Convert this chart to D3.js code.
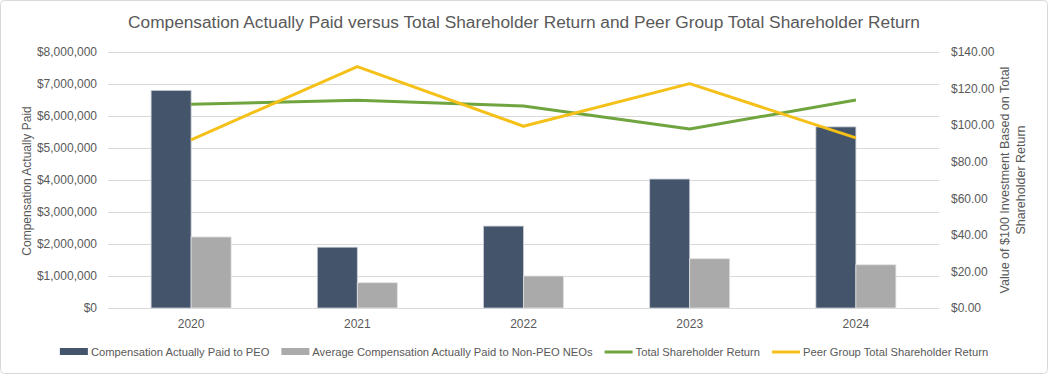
<!DOCTYPE html>
<html>
<head>
<meta charset="utf-8">
<script src="https://cdn.jsdelivr.net/npm/d3@7"></script>
<style>
  body { margin: 0; background: #fff; }
  svg { display: block; font-family: "Liberation Sans", Arial, sans-serif; }
</style>
</head>
<body>
<div id="chart"></div>
<script>
const years = ["2020", "2021", "2022", "2023", "2024"];
const capPeo = [6800000, 1900000, 2560000, 4030000, 5660000];
const capNeo = [2220000, 790000, 1000000, 1540000, 1350000];
const tsr = [111.4, 113.6, 110.5, 97.9, 113.7];
const peerTsr = [92.0, 132.0, 99.4, 122.7, 93.0];
const leftTicks = [0, 1000000, 2000000, 3000000, 4000000, 5000000, 6000000, 7000000, 8000000];
const rightTicks = [0, 20, 40, 60, 80, 100, 120, 140];

const width = 1048;
const height = 374;
const margin = { top: 52, right: 109, bottom: 66, left: 108 };

const svg = d3.select("#chart").append("svg")
    .attr("width", width)
    .attr("height", height);

svg.append("rect")
    .attr("x", 0.5).attr("y", 0.5)
    .attr("width", width - 1).attr("height", height - 1)
    .attr("rx", 4)
    .attr("fill", "#fff")
    .attr("stroke", "#d9d9d9");

const x = d3.scaleBand()
    .domain(years)
    .range([margin.left, width - margin.right]);

const yLeft = d3.scaleLinear()
    .domain([0, 8000000])
    .range([height - margin.bottom, margin.top]);

const yRight = d3.scaleLinear()
    .domain([0, 140])
    .range([height - margin.bottom, margin.top]);

// gridlines
svg.append("g")
    .selectAll("line")
    .data(leftTicks)
    .join("line")
    .attr("x1", margin.left)
    .attr("x2", width - margin.right)
    .attr("y1", d => Math.round(yLeft(d)) + 0.5)
    .attr("y2", d => Math.round(yLeft(d)) + 0.5)
    .attr("stroke", "#d9d9d9")
    .attr("stroke-width", 1);

// left axis
const leftAxis = svg.append("g")
    .attr("transform", `translate(${margin.left},0)`)
    .call(d3.axisLeft(yLeft).tickValues(leftTicks)
        .tickFormat(d => "$" + d3.format(",")(d)).tickSize(0).tickPadding(11));
leftAxis.select(".domain").remove();
leftAxis.selectAll("text").attr("fill", "#595959").attr("font-size", 12);

// right axis
const rightAxis = svg.append("g")
    .attr("transform", `translate(${width - margin.right},0)`)
    .call(d3.axisRight(yRight).tickValues(rightTicks)
        .tickFormat(d => "$" + d3.format(".2f")(d)).tickSize(0).tickPadding(12));
rightAxis.select(".domain").remove();
rightAxis.selectAll("text").attr("fill", "#595959").attr("font-size", 12);

// bottom axis
const bottomAxis = svg.append("g")
    .attr("transform", `translate(0,${height - margin.bottom})`)
    .call(d3.axisBottom(x).tickSize(0).tickPadding(11));
bottomAxis.select(".domain").remove();
bottomAxis.selectAll("text").attr("fill", "#595959").attr("font-size", 12);

// bars
const barW = 40;
const bars = svg.append("g");
bars.selectAll(".peo")
    .data(years)
    .join("rect")
    .attr("class", "peo")
    .attr("x", d => x(d) + x.bandwidth() / 2 - barW)
    .attr("y", (d, i) => yLeft(capPeo[i]))
    .attr("width", barW)
    .attr("height", (d, i) => yLeft(0) - yLeft(capPeo[i]))
    .attr("fill", "#44546a")
    .attr("stroke", "#c9ced6")
    .attr("stroke-width", 0.8);

bars.selectAll(".neo")
    .data(years)
    .join("rect")
    .attr("class", "neo")
    .attr("x", d => x(d) + x.bandwidth() / 2)
    .attr("y", (d, i) => yLeft(capNeo[i]))
    .attr("width", barW)
    .attr("height", (d, i) => yLeft(0) - yLeft(capNeo[i]))
    .attr("fill", "#abaaab")
    .attr("stroke", "#e2e2e2")
    .attr("stroke-width", 0.8);

// lines
const line = d3.line()
    .x((d, i) => x(years[i]) + x.bandwidth() / 2)
    .y(d => yRight(d));

svg.append("path")
    .datum(tsr)
    .attr("d", line)
    .attr("fill", "none")
    .attr("stroke", "#70a43f")
    .attr("stroke-width", 3)
    .attr("stroke-linejoin", "round");

svg.append("path")
    .datum(peerTsr)
    .attr("d", line)
    .attr("fill", "none")
    .attr("stroke", "#f5c018")
    .attr("stroke-width", 3)
    .attr("stroke-linejoin", "round");

// title
svg.append("text")
    .attr("x", width / 2)
    .attr("y", 28)
    .attr("text-anchor", "middle")
    .attr("font-size", 17.3)
    .attr("fill", "#595959")
    .text("Compensation Actually Paid versus Total Shareholder Return and Peer Group Total Shareholder Return");

// axis titles
svg.append("text")
    .attr("transform", "translate(31,181) rotate(-90)")
    .attr("text-anchor", "middle")
    .attr("font-size", 12)
    .attr("fill", "#595959")
    .text("Compensation Actually Paid");

const rTitle = svg.append("text")
    .attr("transform", "translate(1009,180) rotate(-90)")
    .attr("text-anchor", "middle")
    .attr("font-size", 12.5)
    .attr("fill", "#595959");
rTitle.append("tspan").attr("x", 0).attr("dy", 0).text("Value of $100 Investment Based on Total");
rTitle.append("tspan").attr("x", 0).attr("dy", 16).text("Shareholder Return");

// legend
const legendItems = [
    { label: "Compensation Actually Paid to PEO", color: "#44546a", type: "bar" },
    { label: "Average Compensation Actually Paid to Non-PEO NEOs", color: "#abaaab", type: "bar" },
    { label: "Total Shareholder Return", color: "#70a43f", type: "line" },
    { label: "Peer Group Total Shareholder Return", color: "#f5c018", type: "line" }
];

const legend = svg.append("g");
const legendY = 352;
let lx = 0;
legendItems.forEach(item => {
    const g = legend.append("g").attr("transform", `translate(${lx},0)`);
    if (item.type === "bar") {
        g.append("rect")
            .attr("x", 0).attr("y", legendY - 4)
            .attr("width", 28).attr("height", 7)
            .attr("fill", item.color);
    } else {
        g.append("line")
            .attr("x1", 0).attr("x2", 28)
            .attr("y1", legendY).attr("y2", legendY)
            .attr("stroke", item.color)
            .attr("stroke-width", 3);
    }
    const t = g.append("text")
        .attr("x", 31).attr("y", legendY + 4)
        .attr("font-size", 11.2)
        .attr("fill", "#595959")
        .text(item.label);
    lx += 31 + t.node().getComputedTextLength() + 12;
});
legend.attr("transform", `translate(${(width - (lx - 12)) / 2},0)`);
</script>
</body>
</html>
